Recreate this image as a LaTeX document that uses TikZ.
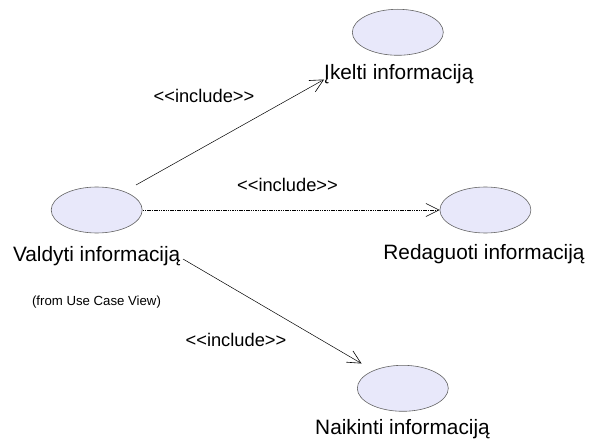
\documentclass[tikz,border=0pt]{standalone}
\usepackage{fontspec}
\setmainfont{Liberation Sans}
\usetikzlibrary{shapes.geometric,arrows.meta}
\definecolor{ucfill}{RGB}{232,232,250}
\definecolor{ucdraw}{RGB}{100,100,100}
\begin{document}
\begin{tikzpicture}[x=1pt,y=-1pt,
  usecase/.style={ellipse, draw=ucdraw, fill=ucfill, line width=0.6pt,
    minimum width=91pt, minimum height=46pt, inner sep=0pt},
  uclabel/.style={anchor=base, inner sep=0pt, font=\fontsize{20.8}{24}\selectfont},
  stereo/.style={anchor=base, inner sep=0pt, font=\fontsize{18.3}{21}\selectfont},
  note/.style={anchor=base, inner sep=0pt, font=\fontsize{13.2}{16}\selectfont},
  dep/.style={draw=black, line width=0.5pt,
    -{Straight Barb[length=13pt,width=13pt,line width=0.6pt]}},
  depdash/.style={dep, dash pattern=on 1.5pt off 0.8pt}
]
\useasboundingbox (0,0) rectangle (593,443);
% use cases
\node[usecase] (V) at (96.7,210) {};
\node[usecase] (I) at (397.8,32.3) {};
\node[usecase] (R) at (485.4,210) {};
\node[usecase] (N) at (402.8,388.3) {};
% labels
\node[uclabel] (Vl) at (96.7,261.7) {Valdyti informaciją};
\node[uclabel] (Il) at (398.8,79.5) {Įkelti informaciją};
\node[uclabel] (Rl) at (484,259) {Redaguoti informaciją};
\node[uclabel] (Nl) at (402.5,434) {Naikinti informaciją};
\node[note] (from) at (96.5,305) {(from Use Case View)};
% stereotypes
\node[stereo] (s1) at (204,103) {<\kern0pt<include>\kern0pt>};
\node[stereo] (s2) at (287.5,191.5) {<\kern0pt<include>\kern0pt>};
\node[stereo] (s3) at (236,346.5) {<\kern0pt<include>\kern0pt>};
% connector ends
\coordinate (v1) at (136,185);
\coordinate (v3) at (183,259);
\coordinate (n3) at (361.5,363.5);
% connectors
\draw[dep] (v1) -- (Il.base west);
\draw[depdash] (V.east) -- (R.west);
\draw[dep] (v3) -- (n3);
\end{tikzpicture}
\end{document}
